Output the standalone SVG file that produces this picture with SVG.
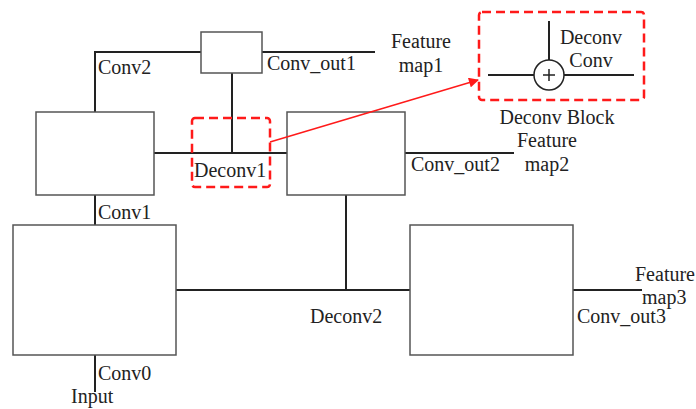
<svg xmlns="http://www.w3.org/2000/svg" width="696" height="409" viewBox="0 0 696 409">
<defs>
<style>
.box{fill:#fff;stroke:#555;stroke-width:1.5}
.ln{stroke:#222;stroke-width:2;fill:none}
.red{fill:none;stroke:#ff1a1a;stroke-width:2.5;stroke-dasharray:9 5}
text{font-family:'Liberation Serif','Times New Roman',Times,serif;font-size:20px;fill:#222}
.c{text-anchor:middle}
</style>
<marker id="arr" viewBox="0 0 10 10" refX="9" refY="5" markerWidth="12" markerHeight="10" orient="auto" markerUnits="userSpaceOnUse">
<path d="M0,0 L10,5 L0,10 z" fill="#ff1a1a"/>
</marker>
</defs>
<rect width="696" height="409" fill="#fff"/>
<g id="connectors">
<path class="ln" d="M95,112 V52 H201"/>
<path class="ln" d="M262,52 H375"/>
<path class="ln" d="M232,73 V153"/>
<path class="ln" d="M154,153 H287"/>
<path class="ln" d="M405,153 H514"/>
<path class="ln" d="M95,195 V225"/>
<path class="ln" d="M346,195 V290"/>
<path class="ln" d="M176,290 H410"/>
<path class="ln" d="M573,290 H642"/>
<path class="ln" d="M95,355 V392"/>
</g>
<g id="node-conv-out1"><rect class="box" x="201" y="32" width="61" height="41"/></g>
<g id="node-conv-left"><rect class="box" x="36" y="112" width="118" height="83"/></g>
<g id="node-conv-mid"><rect class="box" x="287" y="112" width="118" height="83"/></g>
<g id="node-conv-bottom"><rect class="box" x="13" y="225" width="163" height="130"/></g>
<g id="node-conv-right"><rect class="box" x="410" y="225" width="163" height="130"/></g>
<g id="deconv1-highlight"><rect class="red" x="192" y="118" width="78" height="69" rx="3"/></g>
<g id="highlight-arrow"><line x1="270" y1="142" x2="478" y2="80" stroke="#ff1a1a" stroke-width="1.5" marker-end="url(#arr)"/></g>
<g id="deconv-block">
<rect class="red" x="479" y="12" width="165" height="88" rx="3"/>
<path class="ln" d="M488,75 H534 M564,75 H634 M549,21 V60"/>
<circle cx="549" cy="75" r="15" fill="#fff" stroke="#222" stroke-width="1.5"/>
<path d="M543,75 H555 M549,69 V81" stroke="#222" stroke-width="1.5"/>
<text class="c" x="591" y="44">Deconv</text>
<text class="c" x="591" y="67">Conv</text>
</g>
<g id="labels">
<text x="98" y="74">Conv2</text>
<text x="267" y="70">Conv_out1</text>
<text class="c" x="421" y="48">Feature</text>
<text class="c" x="421" y="72">map1</text>
<text x="194" y="177">Deconv1</text>
<text x="98" y="219">Conv1</text>
<text class="c" x="557" y="124">Deconv Block</text>
<text class="c" x="547" y="147">Feature</text>
<text class="c" x="547" y="171">map2</text>
<text x="411" y="171">Conv_out2</text>
<text x="310" y="323">Deconv2</text>
<text x="635" y="281">Feature</text>
<text x="642" y="304">map3</text>
<text x="577" y="323">Conv_out3</text>
<text x="98" y="380">Conv0</text>
<text x="71" y="403">Input</text>
</g>
</svg>
